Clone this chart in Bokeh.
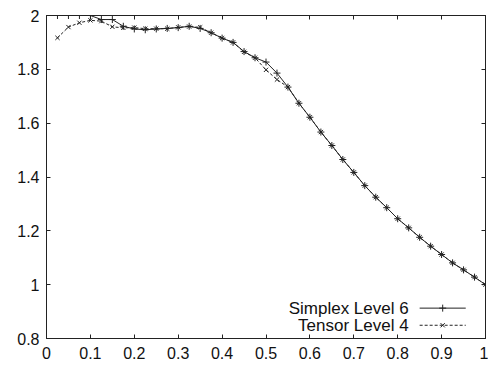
from bokeh.plotting import figure
from bokeh.models import Range1d, LinearAxis, FixedTicker, Label
from bokeh.embed import file_html
from bokeh.resources import INLINE

# ---- data ----
simplex_x = [0.025, 0.05, 0.075, 0.1, 0.125, 0.15, 0.175, 0.2, 0.225, 0.25,
             0.275, 0.3, 0.325, 0.35, 0.375, 0.4, 0.425, 0.45, 0.475, 0.5,
             0.525, 0.55, 0.575, 0.6, 0.625, 0.65, 0.675, 0.7, 0.725, 0.75,
             0.775, 0.8, 0.825, 0.85, 0.875, 0.9, 0.925, 0.95, 0.975, 1.0]
simplex_y = [2.0, 2.0, 2.0, 2.0, 1.985, 1.985, 1.96, 1.95, 1.947, 1.95,
             1.952, 1.955, 1.96, 1.952, 1.936, 1.916, 1.9, 1.866, 1.843, 1.827,
             1.786, 1.734, 1.674, 1.622, 1.567, 1.517, 1.465, 1.417, 1.368, 1.325,
             1.286, 1.245, 1.211, 1.176, 1.143, 1.112, 1.081, 1.055, 1.028, 1.0]
tensor_x = list(simplex_x)
tensor_y = [1.917, 1.957, 1.973, 1.982, 1.979, 1.958, 1.954, 1.955, 1.951, 1.951,
            1.951, 1.956, 1.959, 1.956, 1.936, 1.916, 1.9, 1.865, 1.843, 1.798,
            1.762, 1.734, 1.674, 1.622, 1.567, 1.517, 1.465, 1.417, 1.368, 1.325,
            1.286, 1.245, 1.211, 1.176, 1.143, 1.112, 1.081, 1.055, 1.028, 1.0]

x_ticks = [0, 0.1, 0.2, 0.3, 0.4, 0.5, 0.6, 0.7, 0.8, 0.9, 1.0]
x_tick_labels = ["0", "0.1", "0.2", "0.3", "0.4", "0.5", "0.6", "0.7", "0.8", "0.9", "1"]
y_ticks = [0.8, 1.0, 1.2, 1.4, 1.6, 1.8, 2.0]
y_tick_labels = ["0.8", "1", "1.2", "1.4", "1.6", "1.8", "2"]
series_names = ["Simplex Level 6", "Tensor Level 4"]

FONT = "Liberation Sans"
FS = "16px"
LFS = "17px"
INK = "#222222"

xr = Range1d(0, 1)
yr = Range1d(0.8, 2.0)
p = figure(width=488, height=365, x_range=xr, y_range=yr,
           output_backend="svg", toolbar_location=None,
           min_border_left=46, min_border_right=3,
           min_border_top=15, min_border_bottom=27,
           x_axis_location=None, y_axis_location=None)
p.grid.visible = False
p.outline_line_color = INK
p.outline_line_width = 1
p.background_fill_color = "white"
p.border_fill_color = "white"


def style_axis(ax, ticks, labels=None, standoff=6):
    ax.ticker = FixedTicker(ticks=ticks)
    ax.major_tick_in = 4
    ax.major_tick_out = 0
    ax.minor_tick_line_color = None
    ax.axis_line_color = INK
    ax.major_tick_line_color = INK
    ax.major_label_text_font = FONT
    if labels is not None:
        ax.major_label_overrides = {t: l for t, l in zip(ticks, labels)}
        ax.major_label_text_color = "#111111"
        ax.major_label_text_font_size = FS
        ax.major_label_standoff = standoff
    else:
        ax.major_label_text_color = None
        ax.major_label_text_font_size = "1px"
        ax.major_label_standoff = 0


xb = LinearAxis(); style_axis(xb, x_ticks, x_tick_labels, 8); p.add_layout(xb, "below")
yl = LinearAxis(); style_axis(yl, y_ticks, y_tick_labels, 7); p.add_layout(yl, "left")
xa = LinearAxis(); style_axis(xa, x_ticks); p.add_layout(xa, "above")
yrt = LinearAxis(); style_axis(yrt, y_ticks); p.add_layout(yrt, "right")

# series
p.line(simplex_x, simplex_y, line_color=INK, line_width=1)
p.scatter(simplex_x, simplex_y, marker="cross", size=7, line_color=INK, line_width=1)
p.line(tensor_x, tensor_y, line_color=INK, line_width=1, line_dash="3 2")
p.scatter(tensor_x, tensor_y, marker="x", size=6, line_color=INK, line_width=1)

# legend (gnuplot style: text right-aligned, sample to the right)
W = xr.end - xr.start
H = yr.end - yr.start
tx = xr.start + 0.825 * W
s0 = xr.start + 0.850 * W
s1 = xr.start + 0.955 * W
ys = [yr.start + 0.094 * H, yr.start + 0.041 * H]
for i, name in enumerate(series_names):
    p.add_layout(Label(x=tx, y=ys[i], text=name, text_align="right",
                       text_baseline="middle", text_font=FONT,
                       text_font_size=LFS, text_color="#111111"))
p.line([s0, s1], [ys[0], ys[0]], line_color=INK, line_width=1)
p.scatter([(s0 + s1) / 2], [ys[0]], marker="cross", size=7, line_color=INK)
p.line([s0, s1], [ys[1], ys[1]], line_color=INK, line_width=1, line_dash="3 2")
p.scatter([(s0 + s1) / 2], [ys[1]], marker="x", size=6, line_color=INK)

open("out.html", "w").write(file_html(p, INLINE))
